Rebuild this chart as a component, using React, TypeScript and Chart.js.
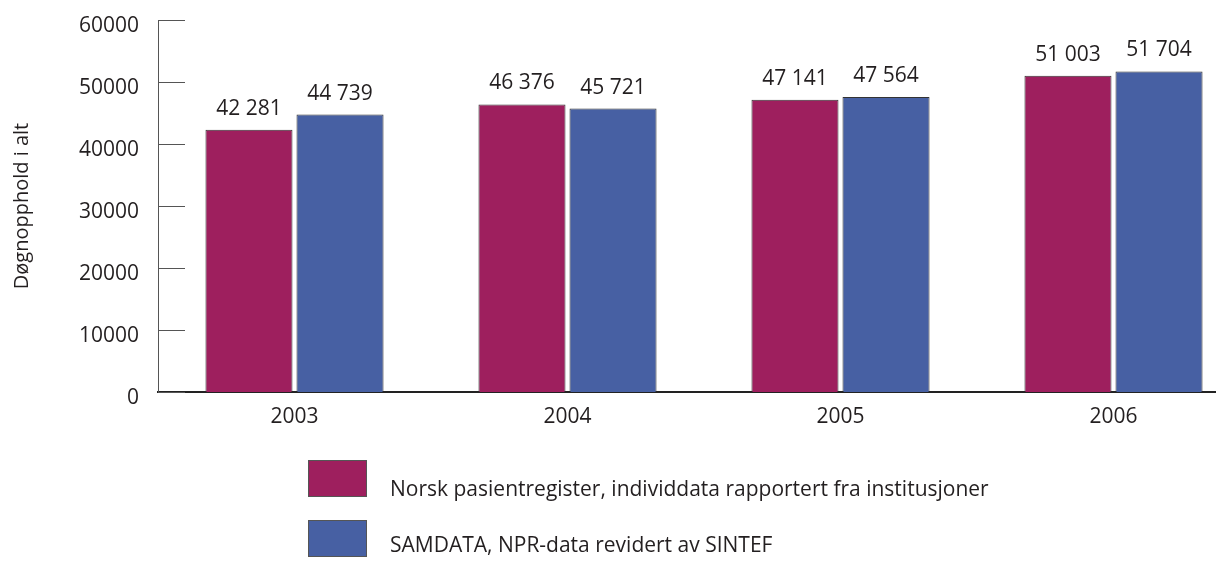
import React, { useEffect, useRef } from "react";
import { Chart, registerables } from "chart.js";

Chart.register(...registerables);

const categories = ["2003", "2004", "2005", "2006"];
const npr = [42281, 46376, 47141, 51003];
const samdata = [44739, 45721, 47564, 51704];
const seriesLabels = [
  "Norsk pasientregister, individdata rapportert fra institusjoner",
  "SAMDATA, NPR-data revidert av SINTEF",
];
const yTitle = "Døgnopphold i alt";

const FONT = "'Open Sans', sans-serif";
const TEXT = "#231f20";
const MAGENTA = "#9e1f5e";
const BLUE = "#4760a3";

const fmt = (v: number) => {
  const s = String(v);
  return s.replace(/\B(?=(\d{3})+(?!\d))/g, " ");
};

const extrasPlugin = {
  id: "extras",
  afterDraw(chart: any) {
    const ctx = chart.ctx;
    const y = chart.scales.y;
    const area = chart.chartArea;
    ctx.save();
    // inward tick marks on y axis
    ctx.strokeStyle = "#555";
    ctx.lineWidth = 1;
    y.ticks.forEach((t: any) => {
      const py = Math.round(y.getPixelForValue(t.value)) + 0.5;
      ctx.beginPath();
      ctx.moveTo(area.left, py);
      ctx.lineTo(area.left + 27, py);
      ctx.stroke();
    });
    // value labels
    ctx.fillStyle = TEXT;
    ctx.font = `21px ${FONT}`;
    ctx.textAlign = "center";
    ctx.textBaseline = "alphabetic";
    chart.data.datasets.forEach((ds: any, di: number) => {
      const meta = chart.getDatasetMeta(di);
      meta.data.forEach((bar: any, i: number) => {
        ctx.fillText(fmt(ds.data[i]), bar.x, bar.y - 15);
      });
    });
    // legend
    const rows = [
      { boxY: 460, textY: 490 },
      { boxY: 520, textY: 546 },
    ];
    chart.data.datasets.forEach((ds: any, di: number) => {
      const r = rows[di];
      ctx.fillStyle = ds.backgroundColor;
      ctx.fillRect(308, r.boxY, 59, 37);
      ctx.strokeStyle = "#555";
      ctx.lineWidth = 1;
      ctx.strokeRect(308.5, r.boxY + 0.5, 58, 36);
      ctx.fillStyle = TEXT;
      ctx.textAlign = "left";
      ctx.textBaseline = "middle";
      ctx.font = `21px ${FONT}`;
      ctx.fillText(ds.label, 390, r.textY);
    });
    ctx.restore();
  },
};

export default function App() {
  const ref = useRef<HTMLCanvasElement>(null);
  useEffect(() => {
    if (!ref.current) return;
    const chart = new Chart(ref.current, {
      type: "bar",
      data: {
        labels: categories,
        datasets: [
          {
            label: seriesLabels[0],
            data: npr,
            backgroundColor: MAGENTA,
            borderColor: "#333",
            borderWidth: 1,
            categoryPercentage: 0.667,
            barPercentage: 0.956,
          },
          {
            label: seriesLabels[1],
            data: samdata,
            backgroundColor: BLUE,
            borderColor: "#333",
            borderWidth: 1,
            categoryPercentage: 0.667,
            barPercentage: 0.956,
          },
        ],
      },
      options: {
        responsive: false,
        animation: false,
        devicePixelRatio: 1,
        layout: { padding: { left: 0, right: 0, top: 20, bottom: 131 } },
        plugins: { legend: { display: false }, tooltip: { enabled: false } },
        scales: {
          x: {
            grid: { display: false, drawTicks: false },
            border: { display: true, color: "#222", width: 2 },
            ticks: { color: TEXT, font: { family: FONT, size: 21 }, padding: 12 },
            afterFit: (s: any) => {
              s.height = 40;
              s.paddingLeft = 0;
              s.paddingRight = 0;
            },
          },
          y: {
            min: 0,
            max: 60000,
            grid: { display: false, drawTicks: false },
            border: { display: true, color: "#555", width: 1 },
            ticks: {
              stepSize: 10000,
              color: TEXT,
              font: { family: FONT, size: 21 },
              padding: 19,
              labelOffset: 6,
              callback: (v: any) => String(v),
            },
            title: {
              display: true,
              text: yTitle,
              color: TEXT,
              font: { family: FONT, size: 20 },
              padding: { top: 10, bottom: 0 },
            },
            afterFit: (s: any) => {
              s.width = 158;
              s.paddingTop = 0;
              s.paddingBottom = 0;
            },
          },
        },
      },
      plugins: [extrasPlugin],
    });
    return () => chart.destroy();
  }, []);
  return (
    <div style={{ position: "absolute", left: 0, top: 0, width: 1216, height: 563, overflow: "hidden", background: "#fff" }}>
      <canvas ref={ref} width={1250} height={563} style={{ display: "block" }} />
    </div>
  );
}
